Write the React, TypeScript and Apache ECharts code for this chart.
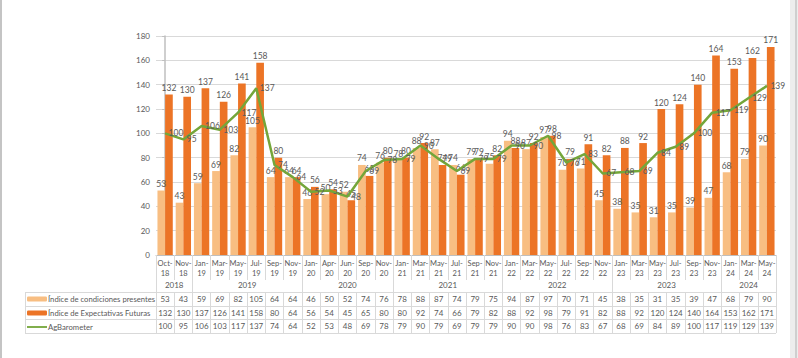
import React, { useEffect, useRef } from "react";
import * as echarts from "echarts";

const months = ["Oct-18","Nov-18","Jan-19","Mar-19","May-19","Jul-19","Sep-19","Nov-19","Jan-20","Apr-20","Jun-20","Sep-20","Nov-20","Jan-21","Mar-21","May-21","Jul-21","Sep-21","Nov-21","Jan-22","Mar-22","May-22","Jul-22","Sep-22","Nov-22","Jan-23","Mar-23","May-23","Jul-23","Sep-23","Nov-23","Jan-24","Mar-24","May-24"];
const years = ["2018","2019","2020","2021","2022","2023","2024"];
const yearSpans = [2, 6, 5, 6, 6, 6, 3];
const presentes = [53,43,59,69,82,105,64,64,46,50,52,74,76,78,88,87,74,79,75,94,87,97,70,71,45,38,35,31,35,39,47,68,79,90];
const futuras = [132,130,137,126,141,158,80,64,56,54,45,65,80,80,92,74,66,79,82,88,92,98,79,91,82,88,92,120,124,140,164,153,162,171];
const agbarometer = [100,95,106,103,117,137,74,64,52,53,48,69,78,79,90,79,69,79,79,90,90,98,76,83,67,68,69,84,89,100,117,119,129,139];
const seriesNames = ["Índice de condiciones presentes", "Índice de Expectativas Futuras", "AgBarometer"];
const yTicks = { min: 0, max: 180, interval: 20 };

const TXT = "#595959";
const LINE = "#d9d9d9";
const FONT = "Lato, 'Noto Sans', sans-serif";

export default function App() {
  const ref = useRef<HTMLDivElement>(null);
  useEffect(() => {
    if (!ref.current) return;
    const chart = echarts.init(ref.current, null, { renderer: "svg" });

    const bounds: number[] = [-0.5];
    const centers: number[] = [];
    let acc = -0.5;
    yearSpans.forEach((s) => {
      centers.push(acc + s / 2);
      acc += s;
      bounds.push(acc);
    });

    const gl = 156, gr = 776, gTop = 36, gBot = 255;
    const rowY = [292, 306, 319, 333];

    const rowAxis = (vals: number[], offset: number) => ({
      type: "category",
      gridIndex: 0,
      position: "bottom",
      offset,
      data: vals.map((v) => String(v)),
      axisLine: { show: true, lineStyle: { color: LINE } },
      axisTick: { show: true, interval: 0, length: 14, lineStyle: { color: LINE } },
      axisLabel: { interval: 0, margin: 3, fontSize: 8, color: TXT, fontFamily: FONT },
      splitLine: { show: false },
    });

    const graphics: any[] = [];
    rowY.forEach((y) => {
      graphics.push({ type: "line", shape: { x1: 25, y1: y + 0.5, x2: y === 333 ? gr : gl, y2: y + 0.5 }, style: { stroke: LINE, lineWidth: 1 } });
    });
    graphics.push({ type: "line", shape: { x1: 25.5, y1: 292, x2: 25.5, y2: 333 }, style: { stroke: LINE, lineWidth: 1 } });
    graphics.push({ type: "rect", shape: { x: 0, y: 0, width: 2, height: 358 }, style: { fill: "#c4c4c4" } });
    graphics.push({ type: "rect", shape: { x: 790, y: 0, width: 8, height: 358 }, style: { fill: "#ededed" } });
    graphics.push({ type: "rect", shape: { x: 795, y: 0, width: 2, height: 358 }, style: { fill: "#cfcfcf" } });

    const labelStyle = { fontSize: 8.5, color: TXT, fontFamily: FONT };

    chart.setOption({
      animation: false,
      backgroundColor: "#ffffff",
      textStyle: { fontFamily: FONT },
      grid: { left: gl, right: 798 - gr, top: gTop, height: gBot - gTop, containLabel: false },
      legend: {
        orient: "vertical",
        left: 27,
        top: 292,
        padding: 0,
        itemGap: 0,
        itemWidth: 20,
        itemHeight: 5,
        selectedMode: false,
        textStyle: { fontSize: 7.7, color: TXT, lineHeight: 14, fontFamily: FONT, padding: [0, 0, 0, -4] },
        data: [
          { name: seriesNames[0], icon: "roundRect" },
          { name: seriesNames[1], icon: "roundRect" },
          { name: seriesNames[2], icon: "path://M0,0 L22,0 L22,2 L0,2 Z" },
        ],
      },
      xAxis: [
        {
          type: "category",
          data: months,
          position: "bottom",
          axisLine: { show: true, lineStyle: { color: "#bfbfbf" } },
          axisTick: { show: true, interval: 0, length: 25, lineStyle: { color: LINE } },
          axisLabel: {
            interval: 0,
            margin: 3,
            fontSize: 7.5,
            lineHeight: 10.5,
            color: TXT,
            fontFamily: FONT,
            formatter: (v: string) => v.replace("-", "-\n"),
          },
        },
        {
          type: "value",
          position: "bottom",
          offset: 25,
          min: -0.5,
          max: 33.5,
          axisLine: { show: false },
          axisTick: { show: true, customValues: bounds, length: 12, lineStyle: { color: LINE } },
          axisLabel: {
            customValues: centers,
            margin: 1,
            fontSize: 8,
            color: TXT,
            fontFamily: FONT,
            formatter: (v: number) => {
              const i = centers.findIndex((c) => Math.abs(c - v) < 1e-6);
              return i >= 0 ? years[i] : "";
            },
          },
          splitLine: { show: false },
        },
        rowAxis(presentes, 37),
        rowAxis(futuras, 51),
        rowAxis(agbarometer, 64),
      ],
      yAxis: {
        type: "value",
        min: yTicks.min,
        max: yTicks.max,
        interval: yTicks.interval,
        axisLine: { show: true, lineStyle: { color: "#bfbfbf", width: 1.5 } },
        axisTick: { show: true, length: 3, lineStyle: { color: "#bfbfbf" } },
        axisLabel: { fontSize: 8, color: TXT, margin: 6, fontFamily: FONT },
        splitLine: { show: true, lineStyle: { color: LINE } },
      },
      series: [
        {
          name: seriesNames[0],
          type: "bar",
          xAxisIndex: 0,
          data: presentes,
          barGap: "0%",
          barCategoryGap: "16%",
          itemStyle: { color: "#F8BE82" },
          label: { show: true, position: "top", distance: 2, ...labelStyle },
        },
        {
          name: seriesNames[1],
          type: "bar",
          xAxisIndex: 0,
          data: futuras,
          barGap: "0%",
          barCategoryGap: "16%",
          itemStyle: { color: "#EC7426" },
          label: { show: true, position: "top", distance: 2, ...labelStyle },
        },
        {
          name: seriesNames[2],
          type: "line",
          xAxisIndex: 0,
          data: agbarometer,
          symbol: "circle",
          symbolSize: 1,
          lineStyle: { color: "#74A63A", width: 2.5 },
          itemStyle: { color: "#74A63A" },
          label: { show: true, position: "right", distance: 3, ...labelStyle },
          z: 5,
        },
      ],
      graphic: graphics,
    });
    return () => chart.dispose();
  }, []);
  return <div ref={ref} style={{ position: "fixed", left: 0, top: 0, width: 798, height: 358 }} />;
}
